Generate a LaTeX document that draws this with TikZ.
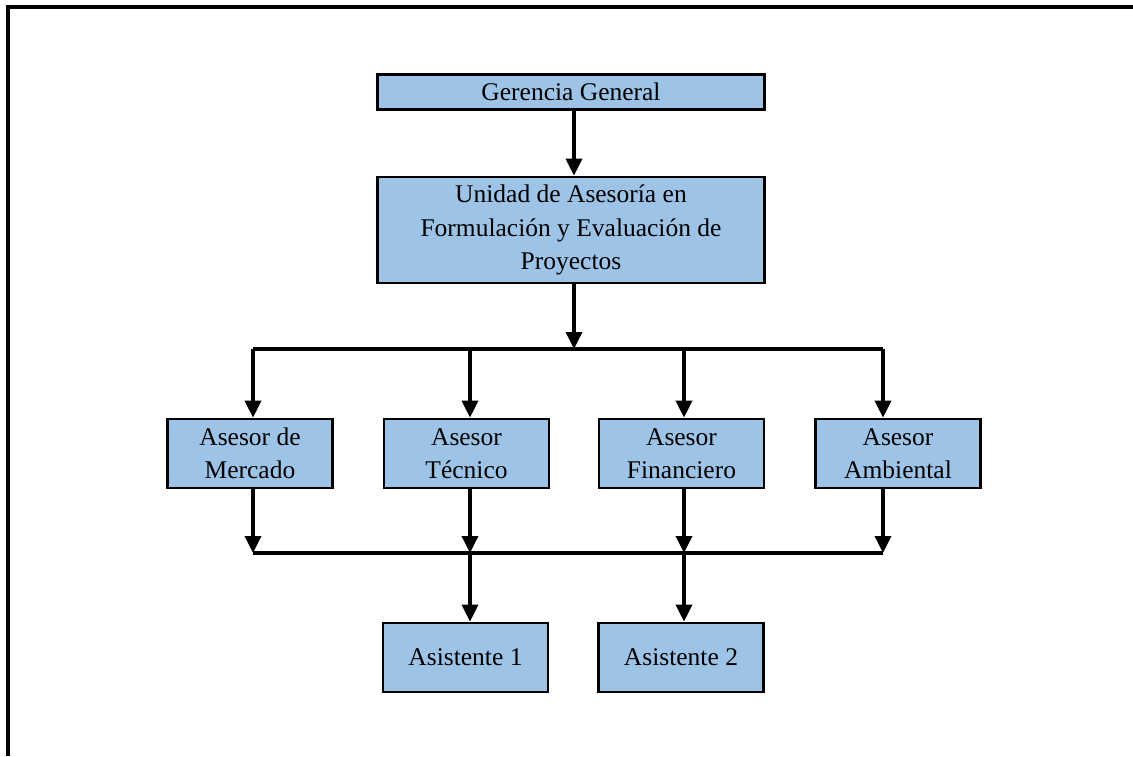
\documentclass[tikz,border=0pt]{standalone}
\usepackage{fontspec}
\setmainfont{Liberation Serif}
\usetikzlibrary{arrows.meta}
\definecolor{cajaazul}{RGB}{157,195,230}
\tikzset{
  caja/.style={draw=black, line width=2.7pt, fill=cajaazul, inner sep=0pt, align=center,
    minimum width=165pt, minimum height=69pt, font=\fontsize{25.5}{33.5}\selectfont},
  flecha/.style={line width=3.5pt, -{Triangle[length=17pt,width=16pt]}},
  linea/.style={line width=3.5pt}
}
\begin{document}
\begin{tikzpicture}[x=1pt,y=-1pt]
  \useasboundingbox (0,0) rectangle (1133,756);
  \draw[linea] (8,756) -- (8,7) -- (1133,7);
  \node[caja, minimum width=387pt, minimum height=35pt] (gerencia) at (571,92) {Gerencia General};
  \node[caja, minimum width=387pt, minimum height=106pt] (unidad) at (571,230)
    {Unidad de Asesoría en\\Formulación y Evaluación de\\Proyectos};
  \node[caja] (mercado) at (250,453.5) {Asesor de\\Mercado};
  \node[caja] (tecnico) at (466.5,453.5) {Asesor\\Técnico};
  \node[caja] (financiero) at (681.5,453.5) {Asesor\\Financiero};
  \node[caja] (ambiental) at (898,453.5) {Asesor\\Ambiental};
  \node[caja] (asist1) at (465.5,657.5) {Asistente 1};
  \node[caja] (asist2) at (681,657.5) {Asistente 2};
  \coordinate (b1) at (574,349);
  \coordinate (m1) at (253,349);
  \coordinate (t1) at (470,349);
  \coordinate (f1) at (684,349);
  \coordinate (a1) at (883,349);
  \coordinate (m2) at (253,553);
  \coordinate (t2) at (470,553);
  \coordinate (f2) at (684,553);
  \coordinate (a2) at (883,553);
  \draw[flecha] (gerencia.south -| b1) -- (unidad.north -| b1);
  \draw[flecha] (unidad.south -| b1) -- (b1);
  \draw[linea] (m1) -- (a1);
  \draw[flecha] (m1) -- (mercado.north -| m1);
  \draw[flecha] (t1) -- (tecnico.north -| t1);
  \draw[flecha] (f1) -- (financiero.north -| f1);
  \draw[flecha] (a1) -- (ambiental.north -| a1);
  \draw[flecha] (mercado.south -| m2) -- (m2);
  \draw[flecha] (tecnico.south -| t2) -- (t2);
  \draw[flecha] (financiero.south -| f2) -- (f2);
  \draw[flecha] (ambiental.south -| a2) -- (a2);
  \draw[linea] (m2) -- (a2);
  \draw[flecha] (t2) -- (asist1.north -| t2);
  \draw[flecha] (f2) -- (asist2.north -| f2);
\end{tikzpicture}
\end{document}
